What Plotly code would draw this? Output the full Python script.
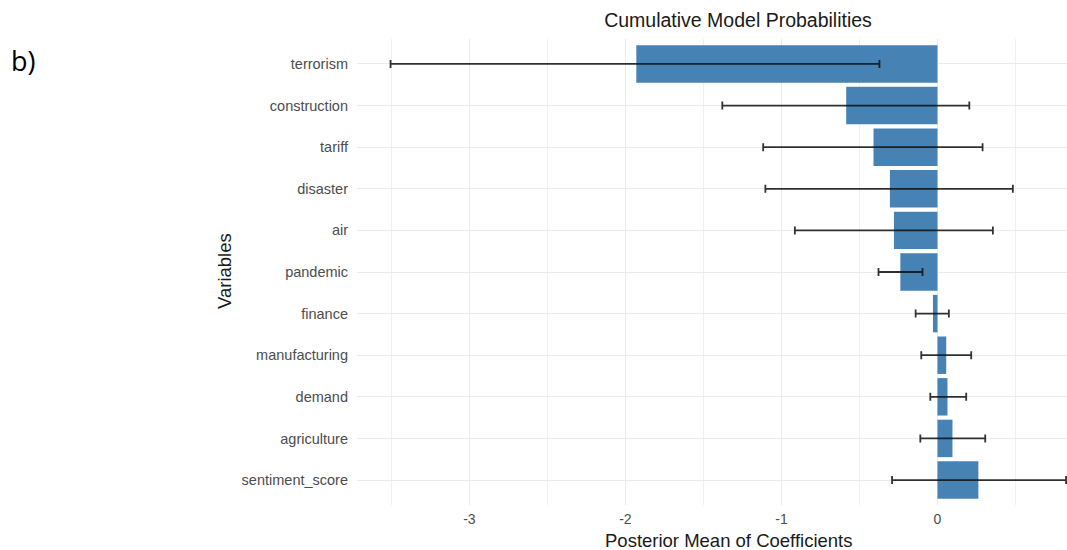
import plotly.graph_objects as go

# Posterior means and interval bounds per variable (top to bottom)
variables = ["terrorism", "construction", "tariff", "disaster", "air", "pandemic",
             "finance", "manufacturing", "demand", "agriculture", "sentiment_score"]
post_mean = [-1.93, -0.585, -0.41, -0.305, -0.279, -0.238,
             -0.029, 0.056, 0.064, 0.096, 0.262]
lower = [-3.505, -1.379, -1.117, -1.103, -0.914, -0.378,
         -0.140, -0.104, -0.046, -0.110, -0.291]
upper = [-0.372, 0.204, 0.289, 0.483, 0.355, -0.096,
         0.073, 0.216, 0.184, 0.306, 0.824]

err_plus = [u - m for u, m in zip(upper, post_mean)]
err_minus = [m - l for m, l in zip(post_mean, lower)]

W, H = 1067, 550
L, R, T, B = 357, 0, 39, 45
pw, ph = W - L - R, H - T - B

fig = go.Figure()
fig.add_trace(go.Bar(
    x=post_mean, y=variables, orientation="h", width=0.9,
    marker=dict(color="#4682B4", line=dict(width=0)),
    error_x=dict(type="data", symmetric=False, array=err_plus, arrayminus=err_minus,
                 color="rgba(15,15,15,0.85)", thickness=1.8, width=4),
    hoverinfo="x+y",
))

font_main = "Liberation Sans, Arial, sans-serif"
grid = "#EBEBEB"

fig.update_layout(
    width=W, height=H,
    margin=dict(l=L, r=R, t=T, b=B),
    paper_bgcolor="white", plot_bgcolor="white",
    showlegend=False,
    font=dict(family=font_main, color="#4D4D4D"),
    title=dict(text="Cumulative Model Probabilities", x=738 / W, xanchor="center",
               y=1 - 20 / H, yanchor="middle", xref="container", yref="container",
               font=dict(size=19.5, color="#1A1A1A", family=font_main)),
    xaxis=dict(range=[-3.72, 0.83], tickvals=[-3, -2, -1, 0], ticktext=["-3", "-2", "-1", "0"],
               showgrid=True, gridcolor=grid, gridwidth=1.2, zeroline=False,
               showline=False, ticks="", ticklabelstandoff=4,
               tickfont=dict(size=14, color="#4D4D4D"),
               minor=dict(dtick=0.5, tick0=0, showgrid=True, gridcolor="#F0F0F0", gridwidth=1)),
    yaxis=dict(categoryorder="array", categoryarray=variables[::-1],
               range=[-0.6, len(variables) - 0.4],
               showgrid=True, gridcolor=grid, gridwidth=1.2, zeroline=False,
               showline=False, ticks="", ticklabelstandoff=8,
               tickfont=dict(size=14.5, color="#4D4D4D")),
    annotations=[
        dict(text="Posterior Mean of Coefficients", xref="paper", yref="paper",
             x=(728 - L) / pw, y=-(540 - (H - B)) / ph, xanchor="center", yanchor="middle",
             showarrow=False, font=dict(size=18.5, color="#1A1A1A", family=font_main)),
        dict(text="Variables", xref="paper", yref="paper", textangle=-90,
             x=(224 - L) / pw, y=((H - B) - 271) / ph, xanchor="center", yanchor="middle",
             showarrow=False, font=dict(size=18.5, color="#1A1A1A", family=font_main)),
        dict(text="b)", xref="paper", yref="paper",
             x=(23 - L) / pw, y=((H - B) - 60) / ph, xanchor="center", yanchor="middle",
             showarrow=False, font=dict(size=27, color="black", family="Open Sans, sans-serif")),
    ],
)

fig.write_html("out.html")
